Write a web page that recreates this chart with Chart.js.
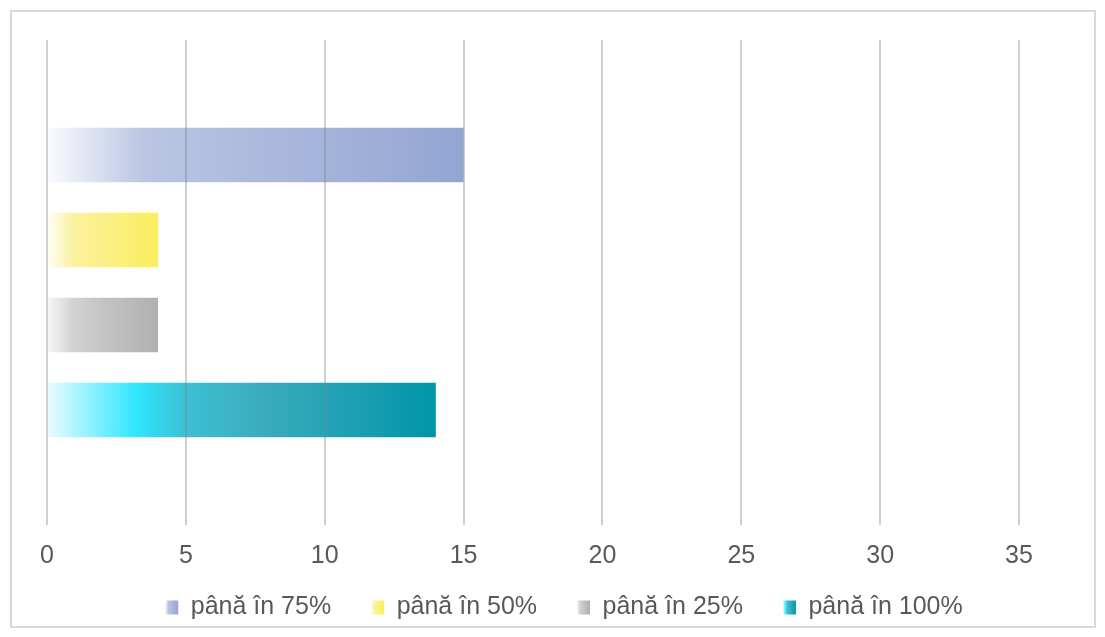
<!DOCTYPE html>
<html>
<head>
<meta charset="utf-8">
<title>Progres</title>
<script src="https://cdn.jsdelivr.net/npm/chart.js@4/dist/chart.umd.min.js"></script>
<style>
  html, body { margin: 0; padding: 0; background: #fff; }
  #frame {
    position: absolute; left: 10px; top: 10px;
    width: 1086px; height: 618px;
    border: 2px solid #d9d9d9; box-sizing: border-box;
  }
  #progressChart { position: absolute; left: 0; top: 0; }
</style>
</head>
<body>
<div id="frame"></div>
<canvas id="progressChart" width="1105" height="637"></canvas>
<script>
// one category, one bar per series
const categories = [''];
const seriesLabels = ['până în 75%', 'până în 50%', 'până în 25%', 'până în 100%'];
const seriesValues = [15, 4, 4, 14];
const axisMax = 35;
const axisStep = 5;

// gradient stops (offset, colour) for each series, left to right along the bar
const seriesFills = [
    [[0, '#fafbfe'], [0.23, '#bac6e3'], [0.5, '#adbadd'], [1, '#92a5d3']],
    [[0, '#fffef6'], [0.23, '#faf2a2'], [0.5, '#fbf088'], [1, '#f9ee5c']],
    [[0, '#f8f8f8'], [0.23, '#d2d2d2'], [0.5, '#c4c4c4'], [1, '#b0b0b0']],
    [[0, '#eafcff'], [0.23, '#2ee6ff'], [0.36, '#3ebfd3'], [0.55, '#3bacbd'], [0.8, '#1b9fb2'], [1, '#0095a8']]
];

const textColor = '#595959';
const fontFamily = "'Liberation Sans', Arial, sans-serif";

function makeGradient(ctx2d, x0, x1, stops) {
    const g = ctx2d.createLinearGradient(x0, 0, x1, 0);
    stops.forEach(([o, c]) => g.addColorStop(o, c));
    return g;
}

// each bar gets its own gradient running from 0 to the bar's end
function barFill(stops) {
    return (ctx) => {
        const chart = ctx.chart;
        const x = chart.scales.x;
        const fallback = stops[stops.length - 1][1];
        if (!chart.chartArea || !x || ctx.type !== 'data') return fallback;
        const x0 = x.getPixelForValue(0);
        const x1 = x.getPixelForValue(ctx.parsed.x);
        if (!isFinite(x0) || !isFinite(x1) || x1 === x0) return fallback;
        return makeGradient(chart.ctx, x0, x1, stops);
    };
}

const legendGradients = {
    id: 'legendGradients',
    afterLayout(chart) {
        // legend row sits a bit right of centre
        chart.legend.left += 31;
        chart.legend.right += 31;
        // x axis box is kept short so the legend fits; let its labels draw below it
        chart.scales.x.bottom += 40;
    },
    beforeDraw(chart) {
        // legend boxes get the bar gradient squeezed into the box
        const legend = chart.legend;
        const bw = legend.options.labels.boxWidth;
        legend.legendItems.forEach((item, i) => {
            const box = legend.legendHitBoxes[i];
            if (!box) return;
            item.fillStyle = makeGradient(chart.ctx, box.left, box.left + bw, seriesFills[item.datasetIndex]);
        });
    }
};

const datasets = seriesLabels.map((label, i) => ({
    label: label,
    data: [seriesValues[i]],
    backgroundColor: barFill(seriesFills[i]),
    borderWidth: 0,
    categoryPercentage: 0.701,
    barPercentage: 0.641
}));

const ctx = document.getElementById('progressChart').getContext('2d');
new Chart(ctx, {
    type: 'bar',
    data: {
        labels: categories,
        datasets: datasets
    },
    options: {
        indexAxis: 'y',
        responsive: false,
        animation: false,
        layout: {
            padding: { top: 40, left: 47, right: 86, bottom: 7 }
        },
        plugins: {
            legend: {
                position: 'bottom',
                labels: {
                    boxWidth: 13,
                    boxHeight: 14,
                    padding: 40,
                    color: textColor,
                    font: { family: fontFamily, size: 25 }
                }
            },
            tooltip: { enabled: false }
        },
        scales: {
            x: {
                min: 0,
                max: axisMax,
                ticks: {
                    stepSize: axisStep,
                    padding: 16,
                    color: textColor,
                    font: { family: fontFamily, size: 25 }
                },
                grid: {
                    color: 'rgba(130, 130, 130, 0.38)',
                    lineWidth: 2,
                    drawTicks: false,
                    z: 1
                },
                border: { display: false },
                afterFit: (scale) => { scale.height = 30; }
            },
            y: {
                display: false
            }
        }
    },
    plugins: [legendGradients]
});
</script>
</body>
</html>
